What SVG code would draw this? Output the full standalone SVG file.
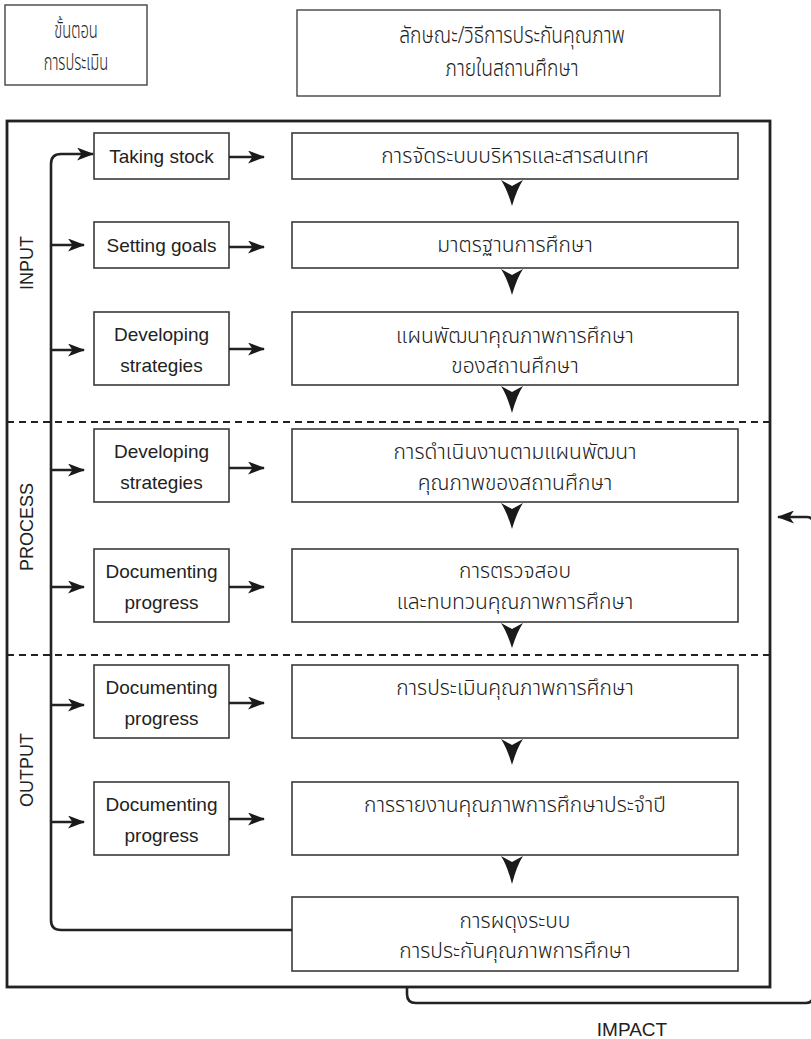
<svg xmlns="http://www.w3.org/2000/svg" width="811" height="1039" viewBox="0 0 811 1039">
<style>
.bg{fill:#fff}
.box{fill:#fff;stroke:#3a3a3a;stroke-width:1.6}
.hbox{fill:#fff;stroke:#444;stroke-width:1.4}
.frame{fill:none;stroke:#222;stroke-width:2.8}
.dash{fill:none;stroke:#222;stroke-width:2.2;stroke-dasharray:7 5}
.ln{fill:none;stroke:#222;stroke-width:2.6}
.dn{fill:#1a1a1a}
.en{font-family:"Liberation Sans",Arial,sans-serif;font-size:19px;fill:#222;text-anchor:middle}
.th{font-family:"Noto Sans Thai","Noto Sans","Liberation Sans",sans-serif;font-size:21px;font-weight:300;fill:#222;text-anchor:middle}
.hd{font-family:"Noto Sans Thai","Noto Sans","Liberation Sans",sans-serif;font-size:23px;font-weight:300;fill:#222;text-anchor:middle}
.vl{font-family:"Liberation Sans",Arial,sans-serif;font-size:18px;fill:#222;text-anchor:middle}
</style>
<defs>
<marker id="ah" viewBox="0 0 17 13" refX="16" refY="6.5" markerWidth="17" markerHeight="13" markerUnits="userSpaceOnUse" orient="auto">
<path d="M0,0 L17,6.5 L0,13 L4.5,6.5 Z" fill="#1a1a1a"/>
</marker>
</defs>
<rect class="bg" x="0" y="0" width="811" height="1039"/>

<g id="header-steps">
<rect class="hbox" x="5" y="5" width="142" height="80"/>
<g transform="translate(76 0) scale(0.64 1)">
<text class="hd" x="0" y="38">ขั้นตอน</text>
<text class="hd" x="0" y="70">การประเมิน</text>
</g>
</g>
<g id="header-method">
<rect class="hbox" x="297" y="10" width="423" height="86"/>
<g transform="translate(512 0) scale(0.84 1)">
<text class="hd" x="0" y="43">ลักษณะ/วิธีการประกันคุณภาพ</text>
<text class="hd" x="0" y="76">ภายในสถานศึกษา</text>
</g>
</g>

<g id="frame">
<rect class="frame" x="7" y="121" width="763" height="866"/>
<line class="dash" x1="7" y1="422" x2="770" y2="422"/>
<line class="dash" x1="7" y1="655" x2="770" y2="655"/>
</g>

<g id="phase-labels">
<text class="vl" x="33" y="263" transform="rotate(-90 33 263)">INPUT</text>
<text class="vl" x="33" y="527" transform="rotate(-90 33 527)">PROCESS</text>
<text class="vl" x="33" y="770" transform="rotate(-90 33 770)">OUTPUT</text>
</g>

<g id="step-taking-stock"><rect class="box" x="94" y="133" width="135" height="46"/><text class="en" x="161.5" y="162.5">Taking stock</text></g>
<g id="step-setting-goals"><rect class="box" x="94" y="222" width="135" height="46"/><text class="en" x="161.5" y="251.5">Setting goals</text></g>
<g id="step-developing-1"><rect class="box" x="94" y="312" width="135" height="73"/><text class="en" x="161.5" y="341">Developing</text><text class="en" x="161.5" y="372">strategies</text></g>
<g id="step-developing-2"><rect class="box" x="94" y="429" width="135" height="73"/><text class="en" x="161.5" y="458">Developing</text><text class="en" x="161.5" y="489">strategies</text></g>
<g id="step-documenting-1"><rect class="box" x="94" y="549" width="135" height="73"/><text class="en" x="161.5" y="578">Documenting</text><text class="en" x="161.5" y="609">progress</text></g>
<g id="step-documenting-2"><rect class="box" x="94" y="665" width="135" height="73"/><text class="en" x="161.5" y="694">Documenting</text><text class="en" x="161.5" y="725">progress</text></g>
<g id="step-documenting-3"><rect class="box" x="94" y="782" width="135" height="73"/><text class="en" x="161.5" y="811">Documenting</text><text class="en" x="161.5" y="842">progress</text></g>

<g id="qa-1"><rect class="box" x="292" y="133" width="446" height="46"/><text class="th" x="515" y="163">การจัดระบบบริหารและสารสนเทศ</text></g>
<g id="qa-2"><rect class="box" x="292" y="222" width="446" height="46"/><text class="th" x="515" y="252">มาตรฐานการศึกษา</text></g>
<g id="qa-3"><rect class="box" x="292" y="312" width="446" height="73"/><text class="th" x="515" y="343">แผนพัฒนาคุณภาพการศึกษา</text><text class="th" x="515" y="373">ของสถานศึกษา</text></g>
<g id="qa-4"><rect class="box" x="292" y="429" width="446" height="73"/><text class="th" x="515" y="459">การดำเนินงานตามแผนพัฒนา</text><text class="th" x="515" y="490">คุณภาพของสถานศึกษา</text></g>
<g id="qa-5"><rect class="box" x="292" y="549" width="446" height="73"/><text class="th" x="515" y="578">การตรวจสอบ</text><text class="th" x="515" y="609">และทบทวนคุณภาพการศึกษา</text></g>
<g id="qa-6"><rect class="box" x="292" y="665" width="446" height="73"/><text class="th" x="515" y="695">การประเมินคุณภาพการศึกษา</text></g>
<g id="qa-7"><rect class="box" x="292" y="782" width="446" height="73"/><text class="th" x="515" y="812">การรายงานคุณภาพการศึกษาประจำปี</text></g>
<g id="qa-8"><rect class="box" x="292" y="897" width="446" height="74"/><text class="th" x="515" y="928">การผดุงระบบ</text><text class="th" x="515" y="958">การประกันคุณภาพการศึกษา</text></g>

<g id="impact-label"><text class="en" x="632" y="1036">IMPACT</text></g>

<g id="connectors">
<path class="ln" d="M292,930 H61 Q51,930 51,920 V164 Q51,154 61,154 H93" marker-end="url(#ah)"/>
<path class="ln" d="M51,245 H84" marker-end="url(#ah)"/>
<path class="ln" d="M51,350 H84" marker-end="url(#ah)"/>
<path class="ln" d="M51,470 H84" marker-end="url(#ah)"/>
<path class="ln" d="M51,587 H84" marker-end="url(#ah)"/>
<path class="ln" d="M51,705 H84" marker-end="url(#ah)"/>
<path class="ln" d="M51,822 H84" marker-end="url(#ah)"/>
<path class="ln" d="M229,157 H264" marker-end="url(#ah)"/>
<path class="ln" d="M229,247 H264" marker-end="url(#ah)"/>
<path class="ln" d="M229,349 H264" marker-end="url(#ah)"/>
<path class="ln" d="M229,468 H264" marker-end="url(#ah)"/>
<path class="ln" d="M229,587 H264" marker-end="url(#ah)"/>
<path class="ln" d="M229,703 H264" marker-end="url(#ah)"/>
<path class="ln" d="M229,819 H264" marker-end="url(#ah)"/>
<path class="dn" d="M501,180 L512,186 L523,180 Q517,189 512,206 Q507,189 501,180 Z"/>
<path class="dn" d="M501,269 L512,275 L523,269 Q517,278 512,295 Q507,278 501,269 Z"/>
<path class="dn" d="M501,386 L512,392 L523,386 Q517,395 512,413 Q507,395 501,386 Z"/>
<path class="dn" d="M501,503 L512,509 L523,503 Q517,512 512,529 Q507,512 501,503 Z"/>
<path class="dn" d="M501,623 L512,629 L523,623 Q517,632 512,648 Q507,632 501,623 Z"/>
<path class="dn" d="M501,739 L512,745 L523,739 Q517,748 512,765 Q507,748 501,739 Z"/>
<path class="dn" d="M501,856 L512,862 L523,856 Q517,865 512,884 Q507,865 501,856 Z"/>
<path class="ln" d="M407,987 V994 Q407,1003 416,1003 H806 Q813,1003 813,996 V523 Q813,517 807,517 H778" marker-end="url(#ah)"/>
</g>
</svg>
